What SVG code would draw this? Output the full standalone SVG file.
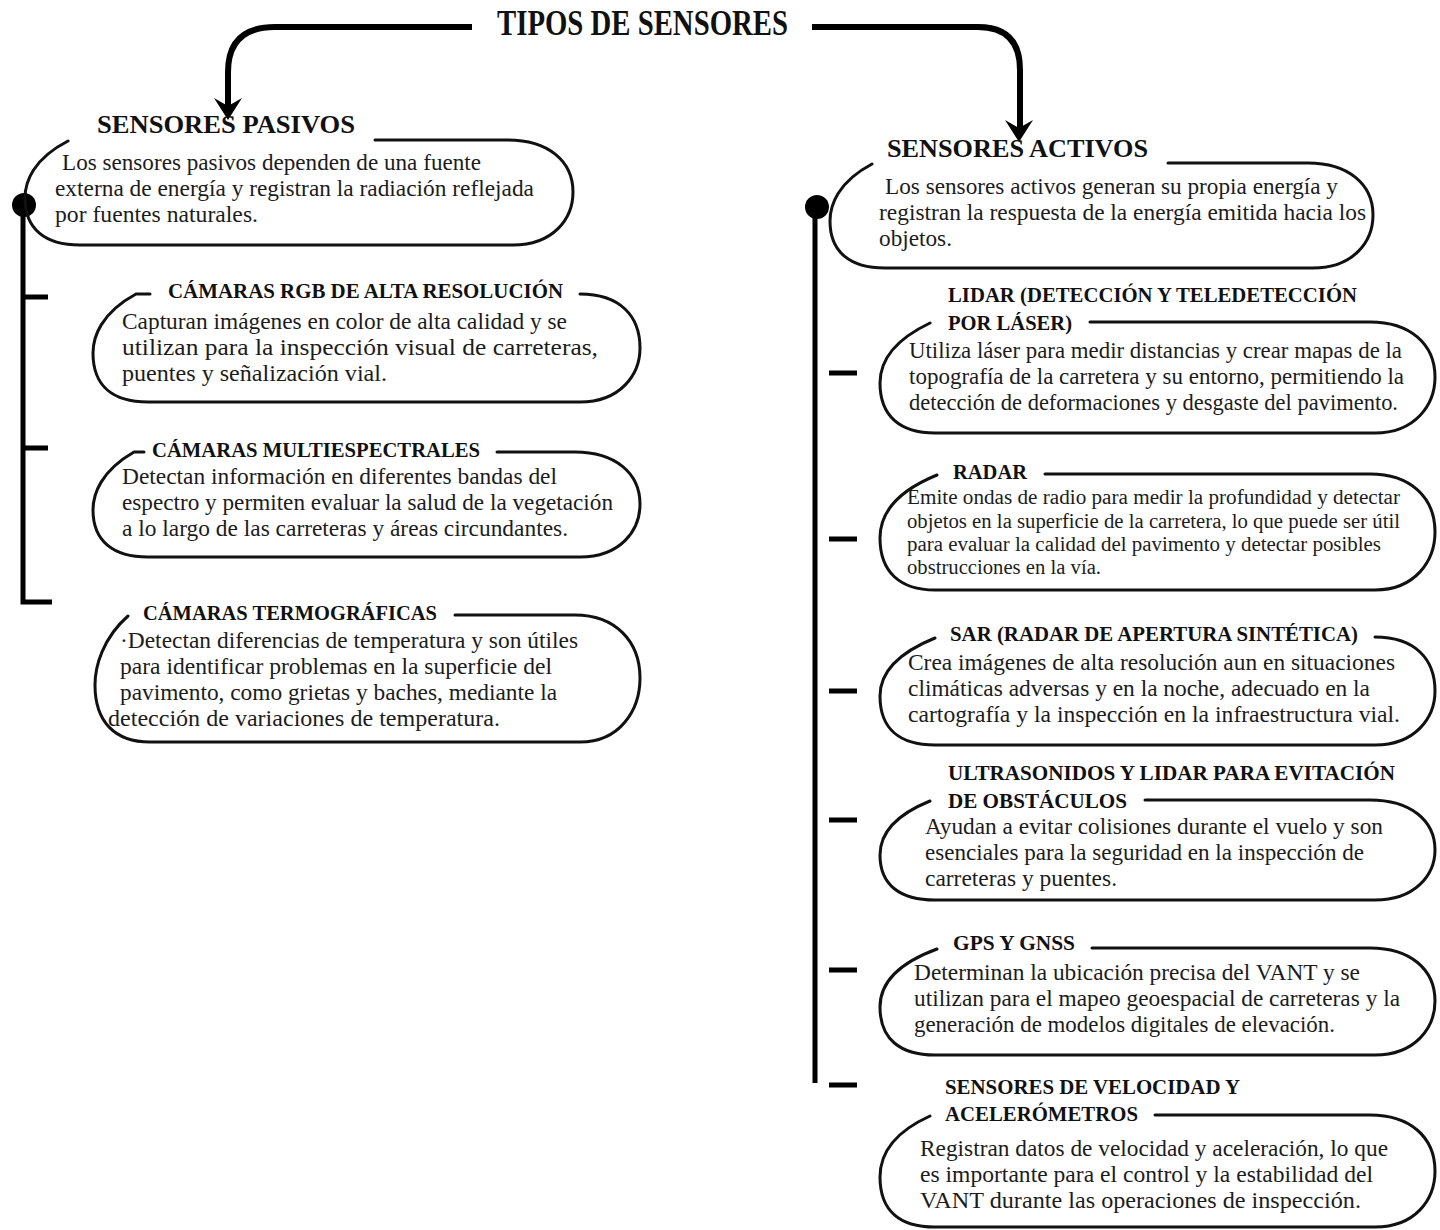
<svg xmlns="http://www.w3.org/2000/svg" width="1440" height="1230" viewBox="0 0 1440 1230">
<style>
.shape{fill:none;stroke:#111;stroke-width:3;stroke-linecap:round;stroke-linejoin:round}
.t{font-family:"Liberation Serif","Times New Roman",serif;font-size:23px;fill:#1c1c1c}
.ts{font-family:"Liberation Serif","Times New Roman",serif;font-size:20.5px;fill:#1c1c1c}
.h{font-family:"Liberation Serif","Times New Roman",serif;font-size:21px;font-weight:bold;fill:#111}
.hb{font-family:"Liberation Serif","Times New Roman",serif;font-size:26px;font-weight:bold;fill:#111}
.main{font-family:"Liberation Serif","Times New Roman",serif;font-size:35px;font-weight:bold;fill:#111}
.bar{fill:none;stroke:#000;stroke-width:5}
.tick{fill:none;stroke:#000;stroke-width:5}
.arr{fill:none;stroke:#000;stroke-width:6;stroke-linejoin:round}
</style>
<rect width="1440" height="1230" fill="#fff"/>

<g id="title">
<text class="main" x="497" y="35" textLength="291" lengthAdjust="spacingAndGlyphs">TIPOS DE SENSORES</text>
</g>

<g id="connectors">
<path class="arr" d="M472,27 L275,27 Q228,27 228,72 L228,106"/>
<polygon points="228,120 214,98 228,106 242,98" fill="#000"/>
<path class="arr" d="M812,27 L978,27 Q1020,27 1020,70 L1020,128"/>
<polygon points="1019,142 1005,120 1019,128 1033,120" fill="#000"/>
<circle cx="24" cy="205" r="12" fill="#000"/>
<path class="bar" d="M23,205 L23,602 L52,602"/>
<path class="tick" d="M23,297 L48,297 M23,448 L48,448"/>
<circle cx="817" cy="207" r="12" fill="#000"/>
<path class="bar" d="M815,207 L815,1083"/>
<path class="tick" d="M829,373 L857,373 M829,539 L857,539 M829,691 L857,691 M829,820 L857,820 M829,970 L857,970 M829,1085 L857,1085"/>
</g>

<g id="n-pasivos">
<path class="shape" d="M68,141 C33,159 25,182 25,198 C25,229 45,245 80,245 L513,245 C553,245 573,219 573,192 C573,161 548,140 508,140 L375,140"/>
<text class="hb" x="97" y="133" textLength="258" lengthAdjust="spacingAndGlyphs">SENSORES PASIVOS</text>
<text class="t" x="62" y="170" textLength="419" lengthAdjust="spacingAndGlyphs">Los sensores pasivos dependen de una fuente</text>
<text class="t" x="55" y="196" textLength="479" lengthAdjust="spacingAndGlyphs">externa de energía y registran la radiación reflejada</text>
<text class="t" x="55" y="222" textLength="203" lengthAdjust="spacingAndGlyphs">por fuentes naturales.</text>
</g>

<g id="n-rgb">
<path class="shape" d="M150,294 L136,294 C101,313 93,337 93,353 C93,386 113,402 148,402 L580,402 C620,402 640,375 640,348 C640,316 620,294 580,294"/>
<text class="h" x="168" y="298" textLength="395" lengthAdjust="spacingAndGlyphs">CÁMARAS RGB DE ALTA RESOLUCIÓN</text>
<text class="t" x="122" y="329" textLength="445" lengthAdjust="spacingAndGlyphs">Capturan imágenes en color de alta calidad y se</text>
<text class="t" x="122" y="355" textLength="476" lengthAdjust="spacingAndGlyphs">utilizan para la inspección visual de carreteras,</text>
<text class="t" x="122" y="381" textLength="265" lengthAdjust="spacingAndGlyphs">puentes y señalización vial.</text>
</g>

<g id="n-multi">
<path class="shape" d="M144,452 L134,452 C101,471 93,494 93,510 C93,541 113,557 148,557 L580,557 C620,557 640,531 640,504 C640,473 615,452 575,452 L497,452"/>
<text class="h" x="152" y="457" textLength="328" lengthAdjust="spacingAndGlyphs">CÁMARAS MULTIESPECTRALES</text>
<text class="t" x="122" y="484" textLength="435" lengthAdjust="spacingAndGlyphs">Detectan información en diferentes bandas del</text>
<text class="t" x="122" y="510" textLength="491" lengthAdjust="spacingAndGlyphs">espectro y permiten evaluar la salud de la vegetación</text>
<text class="t" x="122" y="536" textLength="446" lengthAdjust="spacingAndGlyphs">a lo largo de las carreteras y áreas circundantes.</text>
</g>

<g id="n-termo">
<path class="shape" d="M128,616 C103,638 95,666 95,685 C95,722 115,742 150,742 L580,742 C620,742 640,710 640,678 C640,641 615,615 575,615 L455,615"/>
<text class="h" x="143" y="620" textLength="294" lengthAdjust="spacingAndGlyphs">CÁMARAS TERMOGRÁFICAS</text>
<text class="t" x="120" y="648" textLength="458" lengthAdjust="spacingAndGlyphs">·Detectan diferencias de temperatura y son útiles</text>
<text class="t" x="120" y="674" textLength="432" lengthAdjust="spacingAndGlyphs">para identificar problemas en la superficie del</text>
<text class="t" x="120" y="700" textLength="437" lengthAdjust="spacingAndGlyphs">pavimento, como grietas y baches, mediante la</text>
<text class="t" x="108" y="726" textLength="392" lengthAdjust="spacingAndGlyphs">detección de variaciones de temperatura.</text>
</g>

<g id="n-activos">
<path class="shape" d="M872,164 C838,182 830,205 830,221 C830,252 850,268 885,268 L1313,268 C1353,268 1373,242 1373,215 C1373,184 1348,163 1308,163 L1168,163"/>
<text class="hb" x="887" y="157" textLength="261" lengthAdjust="spacingAndGlyphs">SENSORES ACTIVOS</text>
<text class="t" x="885" y="194" textLength="453" lengthAdjust="spacingAndGlyphs">Los sensores activos generan su propia energía y</text>
<text class="t" x="879" y="220" textLength="487" lengthAdjust="spacingAndGlyphs">registran la respuesta de la energía emitida hacia los</text>
<text class="t" x="879" y="246" textLength="73" lengthAdjust="spacingAndGlyphs">objetos.</text>
</g>

<g id="n-lidar">
<path class="shape" d="M930,323 C888,343 880,366 880,383 C880,416 900,433 935,433 L1375,433 C1415,433 1435,405 1435,377 C1435,344 1410,322 1370,322 L1090,322"/>
<text class="h" x="948" y="302" textLength="409" lengthAdjust="spacingAndGlyphs">LIDAR (DETECCIÓN Y TELEDETECCIÓN</text>
<text class="h" x="948" y="330" textLength="124" lengthAdjust="spacingAndGlyphs">POR LÁSER)</text>
<text class="t" x="909" y="358" textLength="493" lengthAdjust="spacingAndGlyphs">Utiliza láser para medir distancias y crear mapas de la</text>
<text class="t" x="909" y="384" textLength="495" lengthAdjust="spacingAndGlyphs">topografía de la carretera y su entorno, permitiendo la</text>
<text class="t" x="909" y="410" textLength="489" lengthAdjust="spacingAndGlyphs">detección de deformaciones y desgaste del pavimento.</text>
</g>

<g id="n-radar">
<path class="shape" d="M937,475 C888,495 880,520 880,538 C880,572 900,590 935,590 L1375,590 C1415,590 1435,561 1435,532 C1435,497 1410,474 1370,474 L1045,474"/>
<text class="h" x="953" y="479" textLength="74" lengthAdjust="spacingAndGlyphs">RADAR</text>
<text class="ts" x="907" y="504" textLength="493" lengthAdjust="spacingAndGlyphs">Emite ondas de radio para medir la profundidad y detectar</text>
<text class="ts" x="907" y="528" textLength="493" lengthAdjust="spacingAndGlyphs">objetos en la superficie de la carretera, lo que puede ser útil</text>
<text class="ts" x="907" y="551" textLength="474" lengthAdjust="spacingAndGlyphs">para evaluar la calidad del pavimento y detectar posibles</text>
<text class="ts" x="907" y="574" textLength="194" lengthAdjust="spacingAndGlyphs">obstrucciones en la vía.</text>
</g>

<g id="n-sar">
<path class="shape" d="M935,638 C888,657 880,680 880,696 C880,729 900,745 935,745 L1375,745 C1415,745 1435,718 1435,691 C1435,659 1415,637 1375,637"/>
<text class="h" x="950" y="641" textLength="408" lengthAdjust="spacingAndGlyphs">SAR (RADAR DE APERTURA SINTÉTICA)</text>
<text class="t" x="908" y="670" textLength="487" lengthAdjust="spacingAndGlyphs">Crea imágenes de alta resolución aun en situaciones</text>
<text class="t" x="908" y="696" textLength="462" lengthAdjust="spacingAndGlyphs">climáticas adversas y en la noche, adecuado en la</text>
<text class="t" x="908" y="722" textLength="492" lengthAdjust="spacingAndGlyphs">cartografía y la inspección en la infraestructura vial.</text>
</g>

<g id="n-ultra">
<path class="shape" d="M930,801 C888,818 880,840 880,855 C880,885 900,900 935,900 L1375,900 C1415,900 1435,875 1435,850 C1435,820 1410,800 1370,800 L1145,800"/>
<text class="h" x="948" y="780" textLength="447" lengthAdjust="spacingAndGlyphs">ULTRASONIDOS Y LIDAR PARA EVITACIÓN</text>
<text class="h" x="948" y="808" textLength="179" lengthAdjust="spacingAndGlyphs">DE OBSTÁCULOS</text>
<text class="t" x="925" y="834" textLength="458" lengthAdjust="spacingAndGlyphs">Ayudan a evitar colisiones durante el vuelo y son</text>
<text class="t" x="925" y="860" textLength="439" lengthAdjust="spacingAndGlyphs">esenciales para la seguridad en la inspección de</text>
<text class="t" x="925" y="886" textLength="192" lengthAdjust="spacingAndGlyphs">carreteras y puentes.</text>
</g>

<g id="n-gps">
<path class="shape" d="M937,949 C888,967 880,991 880,1007 C880,1039 900,1055 935,1055 L1375,1055 C1415,1055 1435,1028 1435,1001 C1435,969 1410,948 1370,948 L1092,948"/>
<text class="h" x="953" y="950" textLength="122" lengthAdjust="spacingAndGlyphs">GPS Y GNSS</text>
<text class="t" x="914" y="980" textLength="446" lengthAdjust="spacingAndGlyphs">Determinan la ubicación precisa del VANT y se</text>
<text class="t" x="914" y="1006" textLength="486" lengthAdjust="spacingAndGlyphs">utilizan para el mapeo geoespacial de carreteras y la</text>
<text class="t" x="914" y="1032" textLength="421" lengthAdjust="spacingAndGlyphs">generación de modelos digitales de elevación.</text>
</g>

<g id="n-velocidad">
<path class="shape" d="M930,1116 C888,1135 880,1160 880,1177 C880,1211 900,1227 935,1227 L1375,1227 C1415,1227 1435,1200 1435,1171 C1435,1137 1410,1115 1370,1115 L1155,1115"/>
<text class="h" x="945" y="1094" textLength="295" lengthAdjust="spacingAndGlyphs">SENSORES DE VELOCIDAD Y</text>
<text class="h" x="945" y="1121" textLength="193" lengthAdjust="spacingAndGlyphs">ACELERÓMETROS</text>
<text class="t" x="920" y="1156" textLength="468" lengthAdjust="spacingAndGlyphs">Registran datos de velocidad y aceleración, lo que</text>
<text class="t" x="920" y="1182" textLength="453" lengthAdjust="spacingAndGlyphs">es importante para el control y la estabilidad del</text>
<text class="t" x="920" y="1208" textLength="441" lengthAdjust="spacingAndGlyphs">VANT durante las operaciones de inspección.</text>
</g>
</svg>
